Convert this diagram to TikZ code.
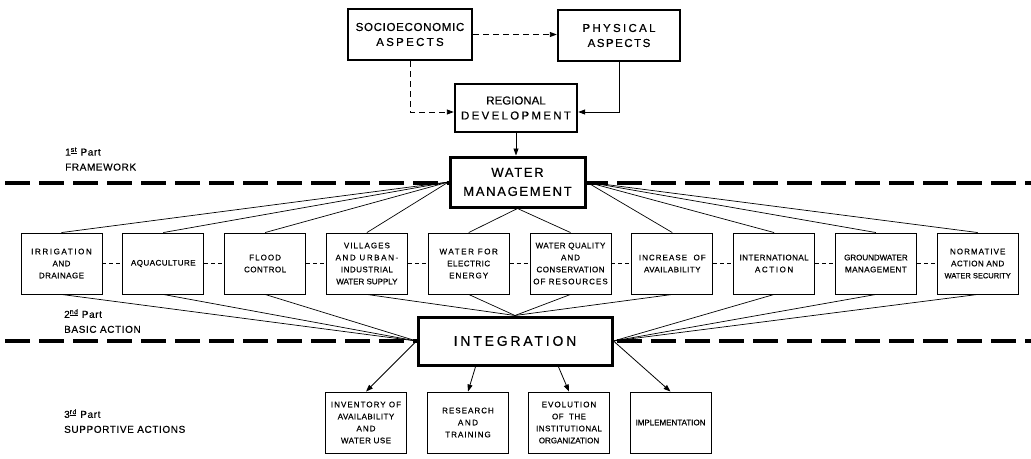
\documentclass[tikz,border=0pt]{standalone}
\usepackage{fontspec}
\setmainfont[FakeBold=0.5]{Liberation Sans}
\newfontfamily\tightf[FakeBold=0.5]{Liberation Sans}
\newfontfamily\widef[FakeBold=0.5,LetterSpace=6]{Liberation Sans}
\newfontfamily\widerf[FakeBold=0.5,LetterSpace=13]{Liberation Sans}
\newfontfamily\widestf[FakeBold=0.5,LetterSpace=20]{Liberation Sans}
\usetikzlibrary{arrows.meta,calc}
\tikzset{
  topbox/.style={draw, line width=2.4pt, fill=white, align=center, inner sep=0pt,
    font=\fontsize{11.5pt}{15pt}\selectfont\widerf},
  bigbox/.style={draw, line width=3pt, fill=white, align=center, inner sep=0pt},
  actbox/.style={draw, line width=0.9pt, fill=white, minimum width=81pt, minimum height=61pt,
    align=center, inner sep=0pt, font=\fontsize{8pt}{12pt}\selectfont\widef},
  link/.style={line width=0.7pt},
  sep/.style={line width=3.6pt, dash pattern=on 25pt off 9pt},
  chain/.style={line width=0.7pt, dash pattern=on 4pt off 3pt},
  arrtip/.style={-{Triangle[length=7pt,width=5pt]}},
  dashlink/.style={line width=0.9pt, dash pattern=on 6pt off 4pt, arrtip},
  arr/.style={line width=0.8pt, arrtip},
  lab/.style={anchor=west, align=left, inner sep=0pt, font=\fontsize{10pt}{15pt}\selectfont\widef}
}
\begin{document}
\begin{tikzpicture}[x=1pt,y=-1pt]
\useasboundingbox[fill=white] (0,0) rectangle (1031,458);

% separators
\coordinate (sepAl) at (5,183);
\coordinate (sepAr) at (1031,183);
\coordinate (sepBl) at (5,341);
\coordinate (sepBr) at (1031,341);
\draw[sep] (sepAl) -- (sepAr);
\draw[sep] (sepBl) -- (sepBr);

% part labels
\node[lab] (l1) at (65,159) {1\textsuperscript{\underline{st}} Part\\FRAMEWORK};
\node[lab] (l2) at (64,321) {2\textsuperscript{\underline{nd}} Part\\BASIC ACTION};
\node[lab] (l3) at (64,421) {3\textsuperscript{\underline{rd}} Part\\SUPPORTIVE ACTIONS};

% first part
\node[topbox, minimum width=124pt, minimum height=51pt] (socio) at (410,34.5)
  {\widef SOCIOECONOMIC\\\widestf ASPECTS};
\node[topbox, minimum width=122pt, minimum height=51pt] (phys) at (619,35.5)
  {\widestf PHYSICAL\\\widerf ASPECTS};
\node[topbox, minimum width=122pt, minimum height=48pt] (reg) at (516,108)
  {\tightf REGIONAL\\\widestf DEVELOPMENT};
\node[bigbox, minimum width=135pt, minimum height=50pt,
  font=\fontsize{13pt}{19pt}\selectfont\widerf] (wm) at (517.5,182)
  {WATER\\MANAGEMENT};

% second part
\node[actbox] (b1) at (61.5,263.5) {\widestf IRRIGATION\\AND\\DRAINAGE};
\node[actbox] (b2) at (163.3,263.5) {AQUACULTURE};
\node[actbox] (b3) at (265.1,263.5) {\widerf FLOOD\\\widef CONTROL};
\node[actbox] (b4) at (366.9,263.5) {\widerf VILLAGES\\\widestf AND URBAN-\\\widef INDUSTRIAL\\\tightf WATER SUPPLY};
\node[actbox] (b5) at (468.7,263.5) {\widestf WATER FOR\\ELECTRIC\\\widerf ENERGY};
\node[actbox] (b6) at (570.5,263.5) {WATER QUALITY\\\widerf AND\\\widef CONSERVATION\\\widerf OF RESOURCES};
\node[actbox] (b7) at (672.3,263.5) {\widerf INCREASE\ \ OF\\AVAILABILITY};
\node[actbox] (b8) at (774.1,263.5) {INTERNATIONAL\\\widestf ACTION};
\node[actbox] (b9) at (875.9,263.5) {\tightf GROUNDWATER\\\widef MANAGEMENT};
\node[actbox] (b10) at (977.7,263.5) {\widerf NORMATIVE\\\widef ACTION AND\\\fontsize{7.5pt}{12pt}\selectfont\tightf WATER SECURITY};

\node[bigbox, minimum width=194pt, minimum height=48pt,
  font=\fontsize{14pt}{17pt}\selectfont\widestf] (int) at (515,341) {INTEGRATION};

% third part
\node[actbox] (s1) at (366,422.5) {\widerf INVENTORY OF\\\widef AVAILABILITY\\\widerf AND\\WATER USE};
\node[actbox] (s2) at (468,422.5) {\widerf RESEARCH\\\widestf AND\\\widerf TRAINING};
\node[actbox] (s3) at (569,422.5) {\widerf EVOLUTION\\OF\ \ THE\\\widef INSTITUTIONAL\\\tightf ORGANIZATION};
\node[actbox] (s4) at (670.5,422.5) {\tightf IMPLEMENTATION};

% first part connectors
\draw[dashlink] (socio.east) -- (socio.east -| phys.west);
\draw[dashlink] (socio.south) |- ($(reg.west)+(0,4)$);
\draw[arr] (phys.south) |- ($(reg.east)+(0,4)$);
\draw[arr] (reg.south) -- (reg.south |- wm.north);

% water management to basic actions
\foreach \i in {1,2,3,4} \draw[link] (b\i.north) -- (wm.west);
\foreach \i in {5,6} \draw[link] (b\i.north) -- (wm.south);
\foreach \i in {7,8,9,10} \draw[link] (b\i.north) -- (wm.east);

% chain between basic actions
\foreach \i/\j in {1/2,2/3,3/4,4/5,5/6,6/7,7/8,8/9,9/10}
  \draw[chain] (b\i.east) -- (b\j.west);

% basic actions to integration
\foreach \i in {1,2,3} \draw[link] (b\i.south) -- (int.west);
\foreach \i in {4,5,6,7} \draw[link] (b\i.south) -- (int.north);
\foreach \i in {8,9,10} \draw[link] (b\i.south) -- (int.east);

% integration to supportive actions
\draw[arr] (int.west) -- (s1.north);
\draw[arr] ($(int.south west)!0.3!(int.south east)$) -- (s2.north);
\draw[arr] ($(int.south west)!0.72!(int.south east)$) -- (s3.north);
\draw[arr] (int.east) -- (s4.north);
\end{tikzpicture}
\end{document}
